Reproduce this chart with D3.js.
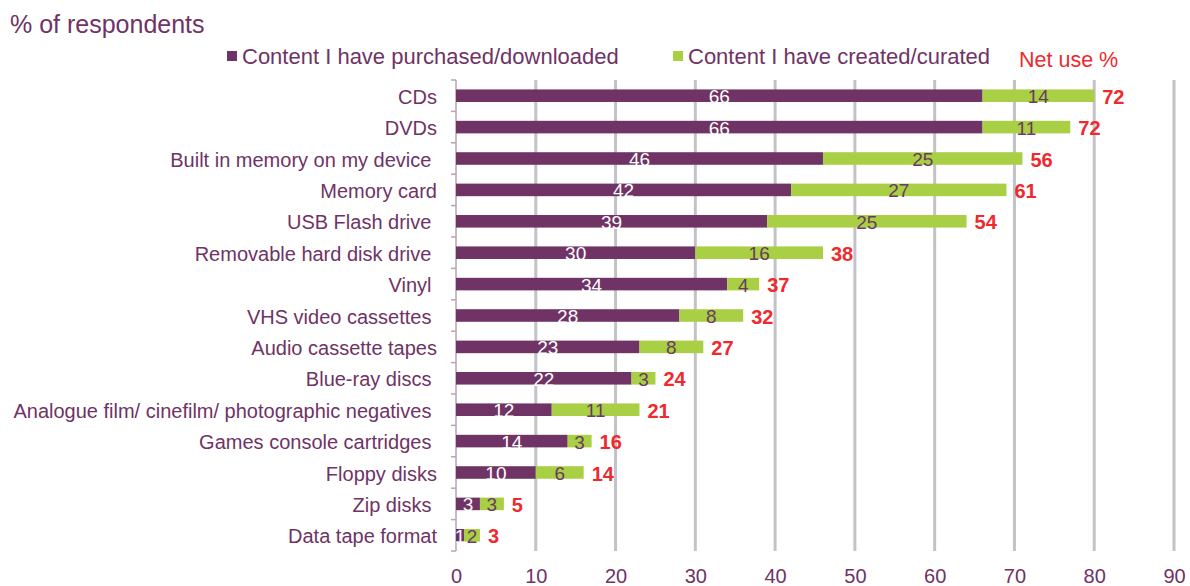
<!DOCTYPE html>
<html>
<head>
<meta charset="utf-8">
<script src="https://cdn.jsdelivr.net/npm/d3@7"></script>
<style>
  html, body { margin: 0; padding: 0; background: #fff; }
  svg { display: block; font-family: "Liberation Sans", Arial, sans-serif; }
  .cat { white-space: pre; }
</style>
</head>
<body>
<svg id="chart" width="1190" height="586"></svg>
<script>
// Storage media used for keeping content, % of respondents
const categories = [
  "CDs", "DVDs", "Built in memory on my device ", "Memory card", "USB Flash drive ",
  "Removable hard disk drive ", "Vinyl ", "VHS video cassettes ", "Audio cassette tapes",
  "Blue-ray discs ", "Analogue film/ cinefilm/ photographic negatives ",
  "Games console cartridges ", "Floppy disks", "Zip disks ", "Data tape format"
];
const purchased = [66, 66, 46, 42, 39, 30, 34, 28, 23, 22, 12, 14, 10, 3, 1];
const created   = [14, 11, 25, 27, 25, 16, 4, 8, 8, 3, 11, 3, 6, 3, 2];
const netUse    = [72, 72, 56, 61, 54, 38, 37, 32, 27, 24, 21, 16, 14, 5, 3];
const xTicks    = [0, 10, 20, 30, 40, 50, 60, 70, 80, 90];
const seriesNames = ["Content I have purchased/downloaded", "Content I have created/curated"];

const PURPLE = "#6f3365";
const GREEN = "#a9cf45";
const RED = "#ee2a2e";
const GRID = "#c3c3c7";
const AXIS = "#b9a3b6";

const svg = d3.select("#chart");

const rows = categories.map((c, i) => ({
  cat: c, p: purchased[i], c: created[i], net: netUse[i]
}));

const x = d3.scaleLinear().domain([0, 90]).range([456, 1174]);
const y = d3.scaleBand().domain(categories).range([80, 551])
  .paddingInner(0.6).paddingOuter(0.3);
const mid = d => y(d.cat) + y.bandwidth() / 2 + 1;

// vertical gridlines
svg.append("g").selectAll("line").data(xTicks.filter(t => t > 0)).join("line")
  .attr("x1", d => x(d)).attr("x2", d => x(d))
  .attr("y1", 80).attr("y2", 551)
  .attr("stroke", GRID).attr("stroke-width", 3);

// x axis labels
const xAxis = d3.axisBottom(x).tickValues(xTicks).tickSize(0).tickPadding(0);
const gx = svg.append("g").attr("transform", "translate(0,569)").call(xAxis);
gx.select(".domain").remove();
gx.selectAll("text").attr("fill", PURPLE).attr("font-size", 20)
  .attr("font-family", "Liberation Sans, Arial, sans-serif").attr("dy", "0.71em");

// y axis line with category separators
const gy = svg.append("g");
gy.append("line").attr("x1", x(0)).attr("x2", x(0)).attr("y1", 80).attr("y2", 551)
  .attr("stroke", AXIS).attr("stroke-width", 1.5);
const step = y.step();
const bounds = d3.range(categories.length + 1).map(i => 80 + i * step);
gy.selectAll("line.sep").data(bounds).join("line").attr("class", "sep")
  .attr("x1", x(0) - 5).attr("x2", x(0)).attr("y1", d => d).attr("y2", d => d)
  .attr("stroke", AXIS).attr("stroke-width", 1.5);

// category labels
svg.append("g").selectAll("text").data(categories).join("text")
  .attr("class", "cat")
  .attr("x", 437).attr("y", d => y(d) + y.bandwidth() / 2 + 1)
  .attr("text-anchor", "end").attr("dominant-baseline", "central")
  .attr("fill", PURPLE).attr("font-size", 20).text(d => d);

// bars
const bars = svg.append("g");
bars.selectAll("rect.p").data(rows).join("rect").attr("class", "p")
  .attr("x", x(0)).attr("y", d => y(d.cat))
  .attr("width", d => x(d.p) - x(0)).attr("height", y.bandwidth())
  .attr("fill", PURPLE);
bars.selectAll("rect.c").data(rows).join("rect").attr("class", "c")
  .attr("x", d => x(d.p)).attr("y", d => y(d.cat))
  .attr("width", d => x(d.p + d.c) - x(d.p)).attr("height", y.bandwidth())
  .attr("fill", GREEN);

// segment value labels
const labels = svg.append("g").attr("font-size", 19).attr("text-anchor", "middle")
  .attr("dominant-baseline", "central");
labels.selectAll("text.p").data(rows).join("text").attr("class", "p")
  .attr("x", d => (x(0) + x(d.p)) / 2).attr("y", mid)
  .attr("fill", "#ffffff").text(d => d.p);
labels.selectAll("text.c").data(rows).join("text").attr("class", "c")
  .attr("x", d => (x(d.p) + x(d.p + d.c)) / 2).attr("y", mid)
  .attr("fill", "#6a3a60").text(d => d.c);

// net use labels
svg.append("g").selectAll("text").data(rows).join("text")
  .attr("x", d => x(d.p + d.c) + 8).attr("y", mid)
  .attr("dominant-baseline", "central")
  .attr("fill", RED).attr("font-size", 20).attr("font-weight", "bold").text(d => d.net);

// title
svg.append("text").attr("x", 10).attr("y", 33).attr("fill", PURPLE)
  .attr("font-size", 25).text("% of respondents");

// legend
const legend = svg.append("g");
const legendX = [227, 673];
seriesNames.forEach((name, i) => {
  legend.append("rect").attr("x", legendX[i]).attr("y", 51).attr("width", 10).attr("height", 10)
    .attr("fill", i === 0 ? PURPLE : GREEN);
  legend.append("text").attr("x", legendX[i] + 15).attr("y", 64).attr("fill", PURPLE)
    .attr("font-size", 22).text(name);
});
svg.append("text").attr("x", 1019).attr("y", 67).attr("fill", RED)
  .attr("font-size", 21.5).text("Net use %");
</script>
</body>
</html>
